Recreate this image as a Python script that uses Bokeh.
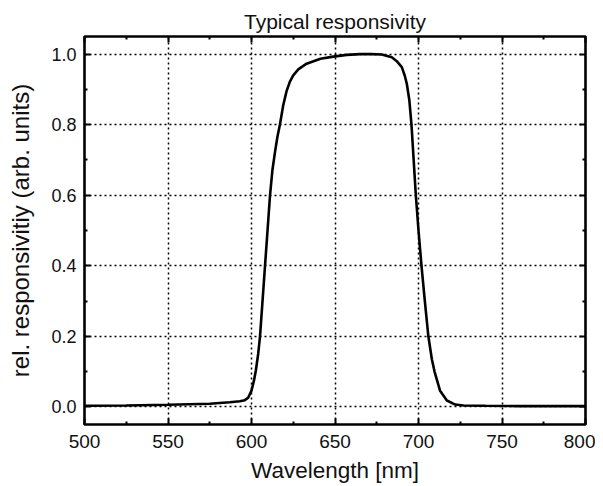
from bokeh.plotting import figure
from bokeh.models import Range1d, LinearAxis, FixedTicker
from bokeh.embed import file_html
from bokeh.resources import INLINE

# ---- data ----
wavelength_nm = [500, 525, 550, 575, 587, 593, 596, 598, 600, 601.5, 602.6, 604, 605.1,
                 606.6, 608.1, 609.6, 611.1, 612.5, 614, 615.5, 617, 619, 621, 623, 625,
                 628, 633, 641.3, 649, 657, 665, 672, 678, 684, 687, 690, 691.7, 693,
                 694.5, 695.8, 697.1, 698.4, 700, 701.8, 703.8, 705.9, 708, 709.6, 712.9,
                 717, 722, 727, 740, 760, 780, 800]
responsivity = [0.003, 0.004, 0.006, 0.009, 0.013, 0.016, 0.019, 0.026, 0.046, 0.075,
                0.103, 0.15, 0.2, 0.3, 0.4, 0.5, 0.6, 0.67, 0.72, 0.765, 0.8, 0.855,
                0.895, 0.922, 0.94, 0.957, 0.973, 0.987, 0.993, 0.998, 1.0, 1.0, 0.999,
                0.991, 0.98, 0.963, 0.94, 0.916, 0.87, 0.8, 0.7, 0.6, 0.5, 0.4, 0.3, 0.2,
                0.135, 0.1, 0.046, 0.018, 0.0065, 0.004, 0.003, 0.002, 0.002, 0.002]

x_major_ticks = [500, 550, 600, 650, 700, 750, 800]
x_minor_ticks = [525, 575, 625, 675, 725, 775]
y_major_ticks = [0.0, 0.2, 0.4, 0.6, 0.8, 1.0]
y_minor_ticks = [0.1, 0.3, 0.5, 0.7, 0.9]
y_tick_labels = ["0.0", "0.2", "0.4", "0.6", "0.8", "1.0"]

title_text = "Typical responsivity"
x_label = "Wavelength [nm]"
y_label = "rel. responsivitiy (arb. units)"

FONT = "Liberation Sans"
INK = "#111111"

p = figure(width=595, height=486, output_backend="svg", toolbar_location=None,
           x_range=Range1d(500, 800), y_range=Range1d(-0.05, 1.05),
           min_border_left=84, min_border_right=10, min_border_top=36,
           min_border_bottom=62, title=title_text)

p.title.align = "center"
p.title.text_font = FONT
p.title.text_font_size = "21px"
p.title.text_font_style = "normal"
p.title.text_color = INK
p.title.standoff = 8
p.title.offset = 0

p.background_fill_color = "white"
p.border_fill_color = "white"
p.outline_line_color = "black"
p.outline_line_width = 2.6
p.outline_line_alpha = 1.0

p.line(wavelength_nm, responsivity, line_color="black", line_width=2.6)


def style_axis(ax, size, label_size):
    ax.axis_line_color = None
    ax.major_tick_in = 6
    ax.major_tick_out = 0
    ax.minor_tick_in = 3
    ax.minor_tick_out = 0
    ax.major_tick_line_width = 2
    ax.minor_tick_line_width = 2
    ax.major_tick_line_color = "black"
    ax.minor_tick_line_color = "black"
    ax.major_label_text_font = FONT
    ax.major_label_text_font_size = size
    ax.major_label_text_color = INK
    ax.axis_label_text_font = FONT
    ax.axis_label_text_font_size = label_size
    ax.axis_label_text_font_style = "normal"
    ax.axis_label_text_color = INK


xt = FixedTicker(ticks=x_major_ticks, minor_ticks=x_minor_ticks)
yt = FixedTicker(ticks=y_major_ticks, minor_ticks=y_minor_ticks)

xa = p.xaxis[0]
xa.ticker = xt
xa.axis_label = x_label
xa.major_label_standoff = 10
xa.axis_label_standoff = 7
style_axis(xa, "19px", "22.5px")

ya = p.yaxis[0]
ya.ticker = yt
ya.major_label_overrides = {t: s for t, s in zip(y_major_ticks, y_tick_labels)}
ya.axis_label = y_label
ya.major_label_standoff = 8
ya.axis_label_standoff = 14
style_axis(ya, "18px", "24px")

top = LinearAxis(ticker=xt, major_label_standoff=0,
                 major_label_overrides={t: "" for t in x_major_ticks})
style_axis(top, "10px", "10px")
p.add_layout(top, "above")
right = LinearAxis(ticker=yt, major_label_standoff=0,
                   major_label_overrides={t: "" for t in y_major_ticks})
style_axis(right, "10px", "10px")
p.add_layout(right, "right")

for g, t in ((p.xgrid[0], xt), (p.ygrid[0], yt)):
    g.ticker = t
    g.grid_line_color = "black"
    g.grid_line_width = 1.5
    g.grid_line_dash = "2 3"
    g.grid_line_alpha = 1.0

open("out.html", "w").write(file_html(p, INLINE))
